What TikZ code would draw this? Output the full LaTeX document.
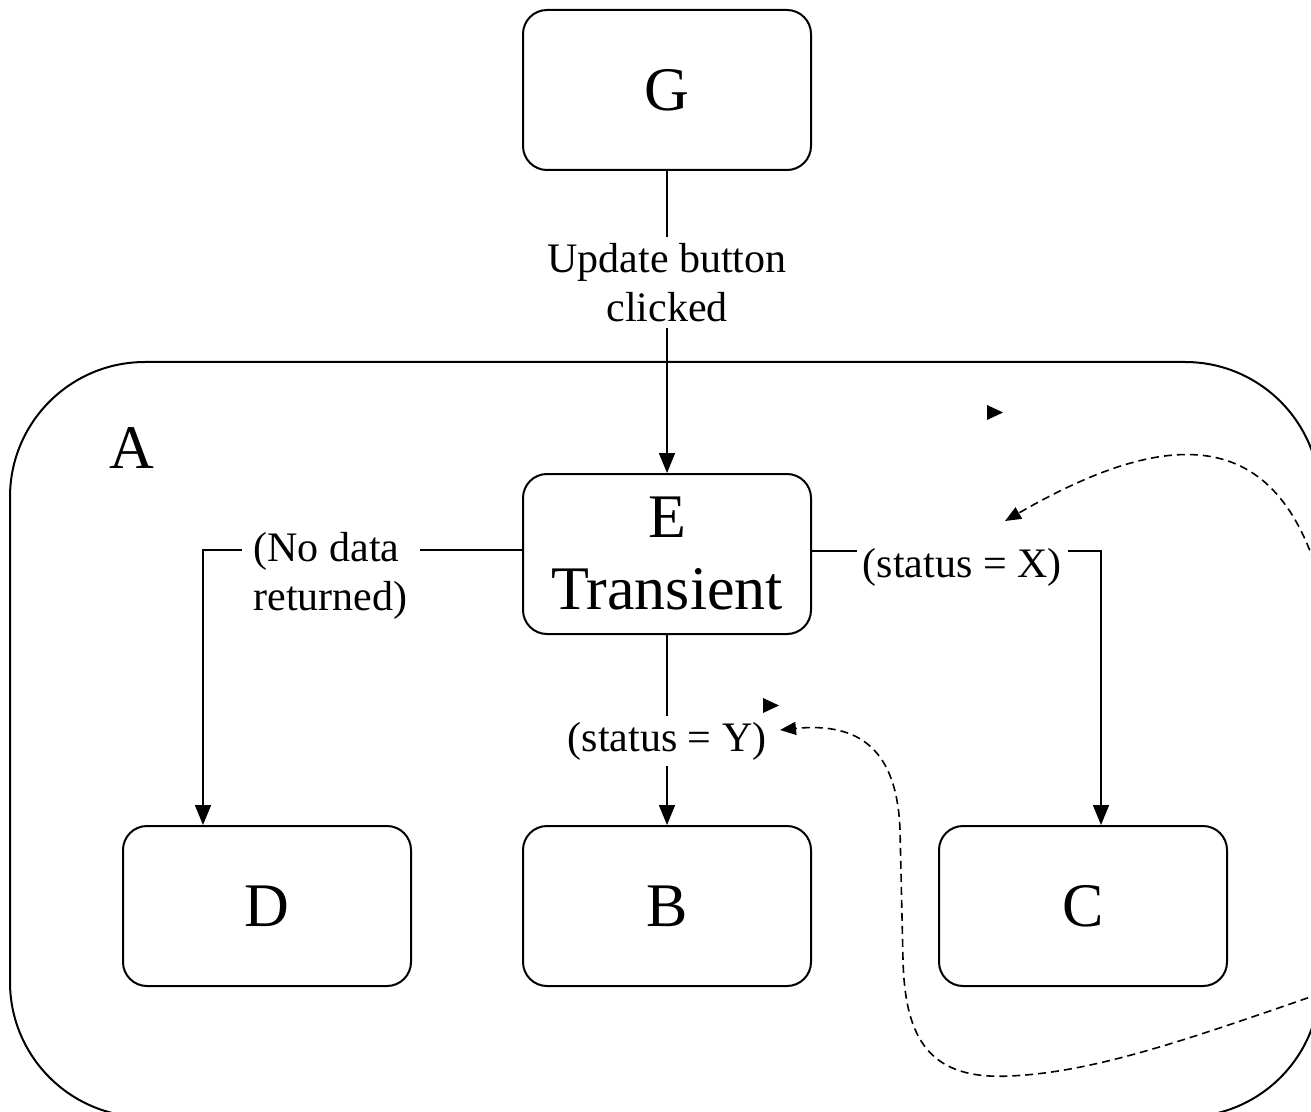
\documentclass[tikz,border=0pt]{standalone}
\usepackage{fontspec}
\setmainfont{Liberation Serif}
\usetikzlibrary{arrows.meta}

\tikzset{
  statebox/.style={draw, line width=1pt, rounded corners=12pt,
    minimum width=144pt, minimum height=80pt, align=center,
    font=\fontsize{31}{36}\selectfont},
  guard/.style={fill=white, inner sep=3pt, align=center,
    font=\fontsize{21}{24.5}\selectfont},
  flow/.style={->, line width=0.8pt},
  hook/.style={-{Triangle[length=8pt,width=6.5pt]}, line width=0.8pt,
    dash pattern=on 4pt off 2.5pt}
}

\begin{document}
\begin{tikzpicture}[x=0.5pt, y=-0.5pt, >={Triangle[length=10pt,width=8pt]}]
  \useasboundingbox (0,0) rectangle (1311,1112);
  \clip (0,0) rectangle (1311,1112);

  % outer state
  \draw[line width=1pt, rounded corners=67.5pt] (10,362) rectangle (1320,1117);
  \node[font=\fontsize{31}{36}\selectfont] (A) at (132,448) {A};

  \node[statebox] (G) at (667,90)  {G};
  \node[statebox] (E) at (667,554) {E\\Transient};
  \node[statebox] (D) at (267,906) {D};
  \node[statebox] (B) at (667,906) {B};
  \node[statebox] (C) at (1083,906) {C};

  \draw[flow] (G) -- node[guard, pos=0.37] {Update button\\clicked} (E);
  \draw[flow] ([yshift=2pt]E.west) -| node[guard, pos=0.3, yshift=-13pt, align=left, inner xsep=6pt]
    {(No data\\returned)} ([xshift=-32pt]D.north);
  \draw[flow] ([yshift=1.5pt]E.east) -| node[guard, pos=0.26, yshift=-8pt] {(status = X)}
    ([xshift=9pt]C.north);
  \draw[flow] (E) -- node[guard, pos=0.56] {(status = Y)} (B);

  % dashed returns
  \draw[hook] (1325,600) .. controls (1285,430) and (1180,420) .. (1005,521);
  \draw[hook] (1345,985) .. controls (1200,1035) and (1100,1072) .. (1010,1076)
    .. controls (930,1080) and (905,1040) .. (903,960) -- (900,830)
    .. controls (897,750) and (860,722) .. (780,730);

  % loose markers
  \fill (987,405) -- (1003,412.5) -- (987,420) -- cycle;
  \fill (763,698) -- (779,705.5) -- (763,713) -- cycle;
\end{tikzpicture}
\end{document}
